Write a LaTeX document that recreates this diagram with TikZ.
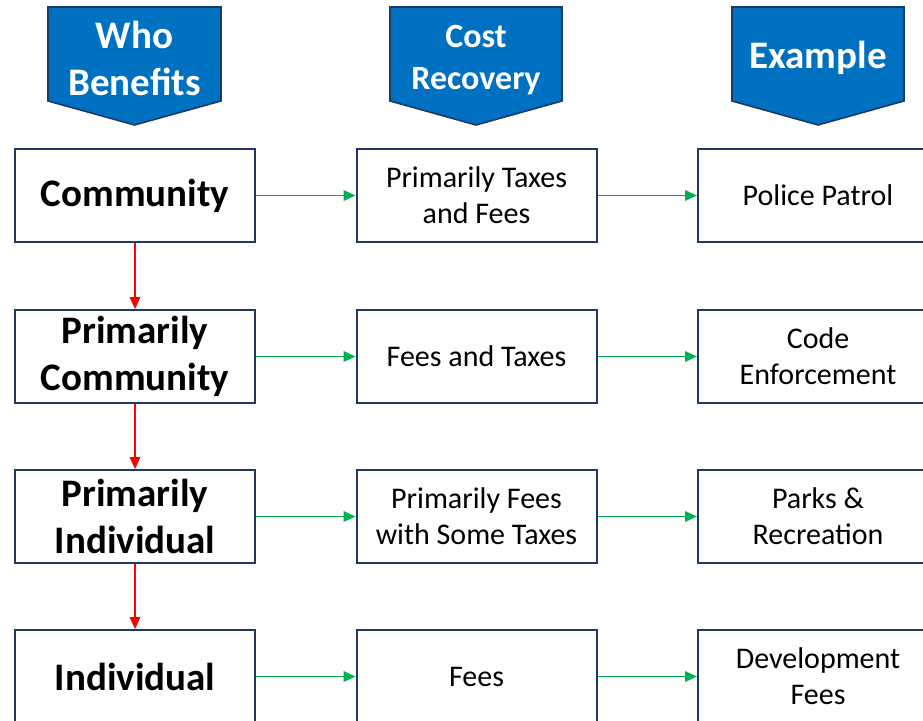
\documentclass[tikz,border=0pt]{standalone}
\usepackage{fontspec}
\setmainfont{Carlito}
\usetikzlibrary{arrows.meta}
\definecolor{hdrblue}{HTML}{0070C0}
\definecolor{navy}{HTML}{1F3864}
\definecolor{arrgreen}{HTML}{00B050}
\begin{document}
\begin{tikzpicture}[x=0.75pt,y=-0.75pt,
  benefit/.style={draw=navy,line width=1.5pt,minimum width=180pt,minimum height=69.75pt,
    inner sep=0pt,align=center,font=\fontsize{29.25}{35.25}\selectfont\bfseries},
  cost/.style={benefit,font=\fontsize{22.5}{27}\selectfont},
  header/.style={draw=navy,line width=1.2pt,fill=hdrblue},
  headtext/.style={text=white,align=center,font=\fontsize{29.25}{35.25}\selectfont\bfseries},
  across/.style={draw=arrgreen,line width=0.9pt,-{Triangle[length=9pt,width=8pt]}},
  down/.style={draw=red,line width=0.9pt,-{Triangle[length=9pt,width=8pt]}}]
\useasboundingbox (0,0) rectangle (923,720);

% headers
\draw[header] (48,7) -- (221,7) -- (221,101) -- (134.5,125) -- (48,101) -- cycle;
\node[headtext] (whohead) at (134.5,58) {Who\\Benefits};
\draw[header] (390,7) -- (562,7) -- (562,101) -- (476,125) -- (390,101) -- cycle;
\node[headtext,font=\fontsize{25.5}{31.5}\selectfont\bfseries] (costhead) at (476,60) {Cost\\Recovery};
\draw[header] (732,7) -- (904,7) -- (904,101) -- (818,125) -- (732,101) -- cycle;
\node[headtext] (examplehead) at (818,58) {Example};

% who benefits
\node[benefit] (community) at (135,195.5) {Community};
\node[benefit] (primcommunity) at (135,356.5) {Primarily\\Community};
\node[benefit] (primindividual) at (135,516.5) {Primarily\\Individual};
\node[benefit] (individual) at (135,676.5) {Individual};

% cost recovery
\node[cost] (taxesfees) at (476.5,195.5) {Primarily Taxes\\and Fees};
\node[cost] (feestaxes) at (476.5,356.5) {Fees and Taxes};
\node[cost] (somefees) at (476.5,516.5) {Primarily Fees\\with Some Taxes};
\node[cost] (fees) at (476.5,676.5) {Fees};

% example
\node[cost] (police) at (818,195.5) {Police Patrol};
\node[cost] (code) at (818,356.5) {Code\\Enforcement};
\node[cost] (parks) at (818,516.5) {Parks \&\\Recreation};
\node[cost] (development) at (818,676.5) {Development\\Fees};

\draw[down] (community) -- (primcommunity);
\draw[down] (primcommunity) -- (primindividual);
\draw[down] (primindividual) -- (individual);

\draw[across] (community) -- (taxesfees);
\draw[across] (taxesfees) -- (police);
\draw[across] (primcommunity) -- (feestaxes);
\draw[across] (feestaxes) -- (code);
\draw[across] (primindividual) -- (somefees);
\draw[across] (somefees) -- (parks);
\draw[across] (individual) -- (fees);
\draw[across] (fees) -- (development);

\end{tikzpicture}
\end{document}
